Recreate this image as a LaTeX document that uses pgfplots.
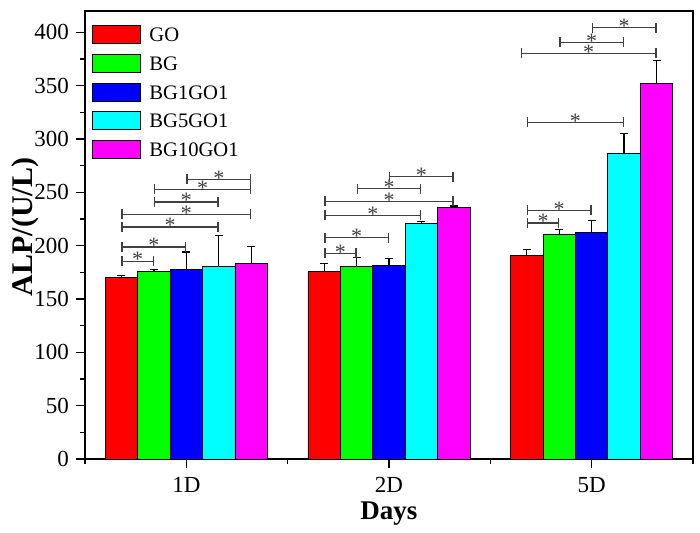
\documentclass[border=0pt]{standalone}
\usepackage{pgfplots}
\pgfplotsset{compat=1.18}
\usepackage{fontspec}
\setmainfont{Liberation Serif}
\usetikzlibrary{arrows.meta}

\definecolor{cred}{RGB}{255,0,0}
\definecolor{cgreen}{RGB}{0,255,0}
\definecolor{cblue}{RGB}{0,0,255}
\definecolor{ccyan}{RGB}{0,255,255}
\definecolor{cmag}{RGB}{255,0,255}

\tikzset{
  sig/.style={draw=black!75, line width=0.7pt, {Bar[width=5pt]}-{Bar[width=5pt]}},
  star/.style={midway, above, inner sep=0pt, yshift=-3.2pt, font=\fontsize{11}{12}\selectfont, text=black!75}
}
\newcommand{\sig}[3]{\draw[sig] (axis cs:#1,#3) -- node[star]{*} (axis cs:#2,#3);}

\begin{document}
\begin{tikzpicture}
\begin{axis}[
  at={(0,0)}, anchor=south west,
  scale only axis, width=304pt, height=224pt,
  xmin=0.5, xmax=3.5, ymin=0, ymax=420,
  ybar=0pt, bar width=0.16,
  xtick={1,2,3}, xticklabels={1D,2D,5D},
  minor xtick={0.5,1.5,2.5,3.5},
  ytick={0,50,...,400}, minor y tick num=1,
  tick pos=left, tick align=outside,
  major tick length=4.5pt, minor tick length=2.5pt,
  every tick/.style={black, line width=0.8pt},
  axis line style={line width=1pt},
  /pgf/number format/assume math mode=true,
  ticklabel style={font=\fontsize{11.5}{13}\selectfont},
  xticklabel style={yshift=-1pt},
  xlabel={\textbf{Days}}, ylabel={\textbf{ALP/(U/L)}},
  every axis x label/.style={at={(axis description cs:0.5,0)}, anchor=center, yshift=-27.5pt, font=\fontsize{13.5}{15}\selectfont},
  every axis y label/.style={at={(axis description cs:0,0.5)}, anchor=center, rotate=90, yshift=30pt, xshift=4pt, font=\fontsize{15}{17}\selectfont},
  legend cell align=left,
  legend image code/.code={\draw[#1, line width=0.5pt] (0pt,-4.5pt) rectangle (24pt,4.5pt);},
  legend style={draw=none, fill=none, at={(0,1)}, anchor=north west, xshift=3.5pt, yshift=-7pt,
    inner sep=0pt, row sep=4.8pt, font=\fontsize{10.3}{12}\selectfont,
    nodes={text height=7pt, text depth=0pt, inner ysep=1pt, inner xsep=4pt}},
  error bars/y dir=plus, error bars/y explicit,
  error bars/error bar style={black, line width=0.6pt},
  error bars/error mark options={rotate=90, mark size=2pt, black, line width=0.6pt},
]
\addplot[fill=cred, draw=black, line width=0.4pt] coordinates {(1,170.4) +- (0,1.5) (2,176.0) +- (0,7) (3,191.0) +- (0,5.4)};
\addplot[fill=cgreen, draw=black, line width=0.4pt] coordinates {(1,175.5) +- (0,2) (2,180.7) +- (0,8) (3,211.0) +- (0,4)};
\addplot[fill=cblue, draw=black, line width=0.4pt] coordinates {(1,178.0) +- (0,16) (2,181.7) +- (0,6) (3,212.7) +- (0,10.7)};
\addplot[fill=ccyan, draw=black, line width=0.4pt] coordinates {(1,180.4) +- (0,29) (2,220.8) +- (0,2) (3,286.9) +- (0,18)};
\addplot[fill=cmag, draw=black, line width=0.4pt] coordinates {(1,183.0) +- (0,16.5) (2,236.2) +- (0,1) (3,352.4) +- (0,21)};
\legend{GO,BG,BG1GO1,BG5GO1,BG10GO1}
% 1D
\sig{0.68}{0.84}{185.4}
\sig{0.68}{1.00}{198.6}
\sig{0.68}{1.16}{217.4}
\sig{0.68}{1.32}{229.3}
\sig{0.84}{1.16}{240.9}
\sig{0.84}{1.32}{252.8}
\sig{1.00}{1.32}{262.2}
% 2D
\sig{1.68}{1.84}{192.7}
\sig{1.68}{2.00}{207.4}
\sig{1.68}{2.16}{228.4}
\sig{1.68}{2.32}{241.5}
\sig{1.84}{2.16}{253.5}
\sig{2.00}{2.32}{264.8}
% 5D
\sig{2.68}{2.84}{221.1}
\sig{2.68}{3.00}{233.0}
\sig{2.68}{3.16}{315.5}
\sig{2.65}{3.32}{380.3}
\sig{2.84}{3.16}{390.6}
\sig{3.00}{3.32}{404.4}
\end{axis}
\pgfresetboundingbox
\path (-42.5pt,-37pt) rectangle (307.5pt,229.5pt);
\end{tikzpicture}
\end{document}
